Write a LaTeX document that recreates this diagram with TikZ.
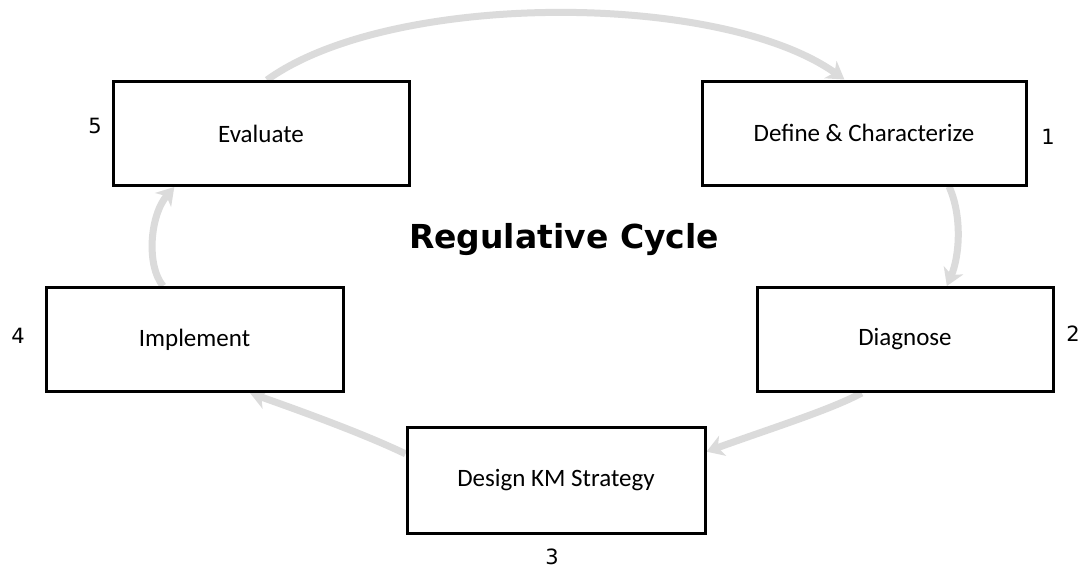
\documentclass[tikz,border=0pt]{standalone}
\usepackage{fontspec}
\setmainfont{Carlito}
\newfontfamily\numfont{DejaVu Sans}
\usetikzlibrary{arrows.meta,calc}
\pgfdeclarelayer{back}
\pgfsetlayers{back,main}
\begin{document}
\begin{tikzpicture}[x=1pt,y=-1pt,
  stage/.style={draw=black, line width=3pt, fill=white, minimum width=296pt,
    minimum height=104pt, inner sep=0pt, font=\fontsize{25}{30}\selectfont},
  flow/.style={draw=black!14, line width=7pt,
    -{Stealth[length=17pt,width=21pt,inset=5pt]}},
  num/.style={font=\numfont\fontsize{21}{25}\selectfont, inner sep=0pt},
  heading/.style={font=\numfont\bfseries\fontsize{33}{40}\selectfont, inner sep=0pt}]
  \useasboundingbox (0,0) rectangle (1085,568);

  % the five stages
  \node[stage] (ev) at (261,133.5) {Evaluate};
  \node[stage, minimum width=324pt] (dc) at (864,133) {Define \& Characterize};
  \node[stage] (dg) at (905,339.5) {Diagnose};
  \node[stage, minimum width=297pt] (im) at (194.5,339.5) {Implement};
  \node[stage, minimum width=298pt, minimum height=106pt] (ds) at (556,480) {Design KM Strategy};

  % step numbers
  \node[num] (n1) at (1048,137) {1};
  \node[num] (n2) at (1073,334) {2};
  \node[num] (n3) at (552,557) {3};
  \node[num] (n4) at (18,336) {4};
  \node[num] (n5) at (95,126) {5};

  % title
  \node[heading, anchor=base] (title) at (564,248) {Regulative Cycle};

  % canvas and cycle arrows, behind the boxes
  \begin{pgfonlayer}{back}
    \fill[white] (0,0) rectangle (1085,568);

    \coordinate (a1s) at ($(ev.north west)!0.52!(ev.north east)$);
    \coordinate (a1e) at ($(dc.north west)!0.44!(dc.north east)$);
    \draw[flow] (a1s) .. controls (390,-9) and (720,-9) .. (a1e);

    \coordinate (a2s) at ($(dc.south west)!0.76!(dc.south east)$);
    \coordinate (a2e) at ($(dg.north west)!0.64!(dg.north east)$);
    \draw[flow] (a2s) .. controls (962,215) and (960,255) .. (a2e);

    \coordinate (a3s) at ($(dg.south west)!0.355!(dg.south east)$);
    \coordinate (a3e) at ($(ds.north east)!0.24!(ds.south east)$);
    \draw[flow] (a3s) .. controls (830,410) and (772,428) .. (a3e);

    \coordinate (a4s) at ($(ds.north west)!0.26!(ds.south west)$);
    \coordinate (a4e) at ($(im.south west)!0.685!(im.south east)$);
    \draw[flow] (a4s) .. controls (360,432) and (292,408) .. (a4e);

    \coordinate (a5s) at ($(im.north west)!0.395!(im.north east)$);
    \coordinate (a5e) at ($(ev.south west)!0.21!(ev.south east)$);
    \draw[flow] (a5s) .. controls (146,265) and (150,215) .. (a5e);
  \end{pgfonlayer}
\end{tikzpicture}
\end{document}
